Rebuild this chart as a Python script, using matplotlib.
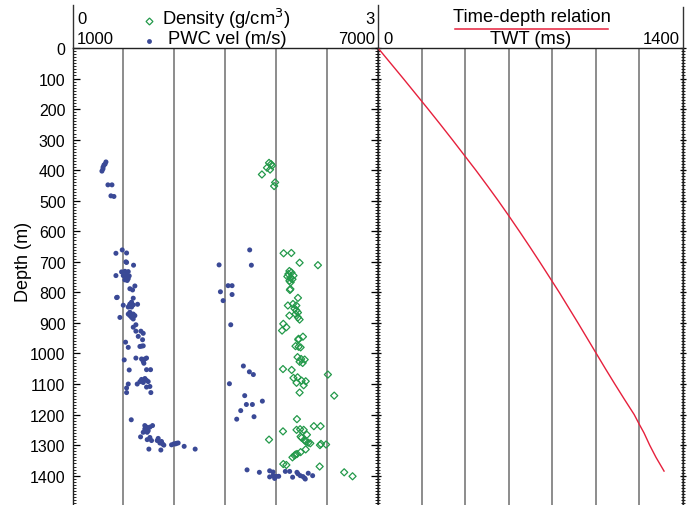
import matplotlib
matplotlib.use("Agg")
import matplotlib.pyplot as plt
from matplotlib.lines import Line2D
from matplotlib.ticker import MultipleLocator
import numpy as np

plt.rcParams['font.family'] = ['Liberation Sans', 'DejaVu Sans']

# ---- P-wave velocity (PWC) measurements: depth (m), velocity (m/s)
pwc_depth = [373, 380, 383, 390, 396, 403, 448, 448, 484, 486,
             672, 661, 671, 702, 700, 711, 745, 733, 731, 732, 740, 745, 750, 755, 759,
             746, 761, 779, 788, 792, 816, 817, 819, 832, 842, 844, 848, 848, 838, 841,
             839, 865, 871, 871, 876, 882, 887, 876, 882, 906, 914, 927, 934, 927, 944,
             955, 963, 980, 977, 975, 976, 1021, 1015, 1018, 1026, 1018, 1015, 1032, 1054,
             1053, 1053, 1085, 1082, 1088, 1092, 1095, 1092, 1100, 1100, 1110, 1108, 1113,
             1128, 1128,
             1217, 1236, 1241, 1241, 1236, 1253, 1247, 1258, 1258, 1273, 1275, 1282, 1285,
             1278, 1285, 1288, 1293, 1296, 1300, 1299, 1296, 1294, 1293, 1296, 1304, 1313,
             1313, 1316,
             661, 710, 711, 778, 778, 798, 807, 827, 906, 1041, 1060, 1069, 1099, 1138,
             1167, 1167, 1156, 1187, 1215, 1207,
             1381, 1389, 1384, 1388, 1404, 1400, 1409, 1402, 1402, 1386, 1386, 1405, 1389,
             1394, 1400, 1403, 1411, 1408, 1392, 1400]
pwc_vel = [1657, 1640, 1618, 1600, 1598, 1578, 1696, 1775, 1755, 1814,
           1853, 1977, 2062, 2062, 2049, 2199, 1853, 1964, 2029, 2095, 2062, 1997, 2049, 2095, 2029,
           2114, 2075, 2225, 2127, 2180, 1879, 1866, 2193, 2160, 1997, 2114, 2160, 2095, 2127, 2193,
           2278, 2127, 2095, 2193, 2225, 2160, 2193, 2127, 1931, 2245, 2193, 2343, 2389, 2245, 2291,
           2376, 2042, 2095, 2324, 2389, 2356, 2016, 2245, 2356, 2389, 2422, 2454, 2402, 2114,
           2454, 2533, 2356, 2422, 2454, 2487, 2389, 2324, 2271, 2095, 2454, 2520, 2062,
           2062, 2539,
           2154, 2420, 2454, 2520, 2572, 2487, 2420, 2467, 2389, 2337, 2520, 2467, 2552,
           2683, 2664, 2748, 2716, 2768, 2794, 2945, 2990, 3043, 3075, 3023, 3193, 3409,
           2500, 2735,
           4480, 3879, 4513, 4056, 4134, 3905, 4134, 3958, 4108, 4356, 4474, 4552, 4082, 4382,
           4415, 4533, 4729, 4304, 4225, 4565,
           4428, 4670, 4872, 4938, 4872, 4938, 4970, 5003, 5050, 5180, 5265, 5323, 5408,
           5428, 5474, 5526, 5572, 5559, 5630, 5716]

# ---- Bulk density: depth (m), density (g/cm3)
dens_depth = [376, 380, 385, 392, 398, 414, 440, 452,
              672, 671, 703, 711, 730, 735, 740, 745, 748, 752, 757, 762, 767, 789, 792,
              818, 843, 838, 843, 853, 859, 866, 871, 882, 889, 876, 903, 925, 914, 945,
              952, 955, 976, 980, 978, 1012, 1018, 1020, 1027, 1031, 1051, 1054, 1080,
              1078, 1089, 1091, 1096, 1104, 1069, 1128, 1138,
              1215, 1255, 1250, 1248, 1250, 1238, 1238, 1266, 1272, 1276, 1285, 1289, 1292,
              1294, 1282, 1300, 1296, 1298, 1314, 1323, 1329, 1334, 1340, 1331, 1362, 1365,
              1370, 1389, 1402]
dens_val = [1.93, 1.95, 1.96, 1.91, 1.94, 1.86, 1.99, 1.98,
            2.073, 2.149, 2.230, 2.410, 2.13, 2.15, 2.12, 2.17, 2.11, 2.14, 2.16, 2.13, 2.142,
            2.14, 2.135, 2.214, 2.115, 2.165, 2.198, 2.18, 2.198, 2.214, 2.19, 2.214, 2.23,
            2.13, 2.07, 2.058, 2.10, 2.263, 2.22, 2.217, 2.19, 2.24, 2.22, 2.21, 2.245, 2.28,
            2.23, 2.26, 2.067, 2.152, 2.17, 2.21, 2.25, 2.29, 2.20, 2.27, 2.508, 2.23, 2.57,
            2.204, 2.067, 2.20, 2.235, 2.27, 2.37, 2.436, 2.302, 2.24, 2.25, 2.28, 2.295,
            2.315, 2.335, 1.93, 2.43, 2.44, 2.49, 2.29, 2.24, 2.205, 2.18, 2.16, 2.19, 2.07,
            2.10, 2.427, 2.668, 2.75]

# ---- Time-depth relation: depth (m), two-way time (ms)
td_depth = [0, 50, 100, 150, 200, 250, 300, 350, 400, 450, 500, 550, 600, 650, 700,
            750, 800, 850, 900, 950, 1000, 1050, 1100, 1150, 1200, 1230, 1260, 1300,
            1340, 1385]
td_twt = [0, 58, 116, 173, 230, 286, 341, 395, 449, 501, 552, 601, 649, 696, 742,
          787, 832, 875, 918, 960, 1002, 1044, 1087, 1131, 1176, 1198, 1221, 1247,
          1276, 1313]

vel_range = (1000, 7000)
dens_range = (0, 3)
twt_range = (0, 1400)
depth_ticks = list(range(0, 1500, 100))

BLUE = '#3a4996'
GREEN = '#23994a'
RED = '#e6203c'
GRID = '#6e6e6e'

W, H = 694, 506
fig = plt.figure(figsize=(W / 100, H / 100), dpi=100)


def fx(x):
    return x / W


def fy(y):
    return 1 - y / H


top = fy(49)
ax1 = fig.add_axes([fx(72.5), 0, fx(378) - fx(72.5), top])
ax2 = fig.add_axes([fx(378), 0, fx(683) - fx(378), top])

# Left panel: velocity scale with density on a twin scale
ax1.set_xlim(*vel_range)
ax1.set_xticks(np.arange(vel_range[0], vel_range[1] + 1, 1000))
ax1.scatter(pwc_vel, pwc_depth, s=13, color=BLUE, edgecolors='none', zorder=3)

axd = ax1.twiny()
axd.set_xlim(*dens_range)
axd.axis('off')
axd.scatter(dens_val, dens_depth, s=13, marker='D', facecolors='none',
            edgecolors=GREEN, linewidths=0.9, zorder=3)

# Right panel: two-way time vs depth
ax2.set_xlim(*twt_range)
ax2.set_xticks(np.arange(0, 1401, 200))
ax2.plot(td_twt, td_depth, color=RED, lw=1.0, zorder=3)

ylim = (1496, 0)
for ax in (ax1, ax2, axd):
    ax.set_ylim(*ylim)
for ax in (ax1, ax2):
    ax.set_axisbelow(True)
    ax.grid(axis='x', color=GRID, lw=1.1)
    ax.spines['bottom'].set_visible(False)
    for s in ('left', 'right', 'top'):
        ax.spines[s].set_linewidth(1.0)
        ax.spines[s].set_color('#222222')
    ax.yaxis.set_major_locator(MultipleLocator(100))
    ax.yaxis.set_minor_locator(MultipleLocator(10))
    ax.tick_params(axis='y', which='major', direction='in', length=5, width=0.9,
                   left=True, right=True, labelright=False)
    ax.tick_params(axis='y', which='minor', direction='in', length=2.5, width=0.6,
                   left=True, right=True)
    ax.tick_params(axis='x', which='both', length=0, labelbottom=False, labeltop=False)

ax1.set_yticks(depth_ticks)
ax1.set_yticklabels([str(t) for t in depth_ticks], fontsize=11.5)
ax1.tick_params(axis='y', which='major', pad=5)
ax2.tick_params(axis='y', labelleft=False)
ax2.tick_params(axis='y', which='both', direction='inout')
ax1.set_ylabel('Depth (m)', fontsize=13)
ax1.yaxis.set_label_coords(-40 / 305.5, (506 - 262) / 457)

# Header: vertical separators extending above the panels
for x, y0 in ((72.5, 6), (378, 6), (683, 8)):
    fig.add_artist(Line2D([fx(x), fx(x)], [fy(y0), top], color='#333333', lw=1.0))

fs = 12
lfs = 13.2
fig.text(fx(77), fy(19), '0', fontsize=fs, ha='left', va='center')
fig.text(fx(375), fy(19), '3', fontsize=fs, ha='right', va='center')
fig.text(fx(77), fy(39), '1000', fontsize=fs, ha='left', va='center')
fig.text(fx(375), fy(39), '7000', fontsize=fs, ha='right', va='center')
fig.add_artist(Line2D([fx(149)], [fy(22)], marker='D', markersize=3.5,
                      markerfacecolor='none', markeredgecolor=GREEN,
                      markeredgewidth=0.9, linestyle='none'))
fig.add_artist(Line2D([fx(149)], [fy(42)], marker='o', markersize=3.5,
                      markerfacecolor=BLUE, markeredgecolor='none', linestyle='none'))
fig.text(fx(162), fy(19), 'Density (g/cm$^{3}$)', fontsize=lfs, ha='left', va='center')
fig.text(fx(168), fy(39), 'PWC vel (m/s)', fontsize=lfs, ha='left', va='center')

fig.text(fx(532), fy(18), 'Time-depth relation', fontsize=lfs, ha='center', va='center')
fig.add_artist(Line2D([fx(455), fx(608)], [fy(29.5), fy(29.5)], color=RED, lw=1.1))
fig.text(fx(531), fy(40), 'TWT (ms)', fontsize=lfs, ha='center', va='center')
fig.text(fx(383), fy(40), '0', fontsize=fs, ha='left', va='center')
fig.text(fx(680), fy(40), '1400', fontsize=fs, ha='right', va='center')

fig.savefig('out.png', dpi=100)
